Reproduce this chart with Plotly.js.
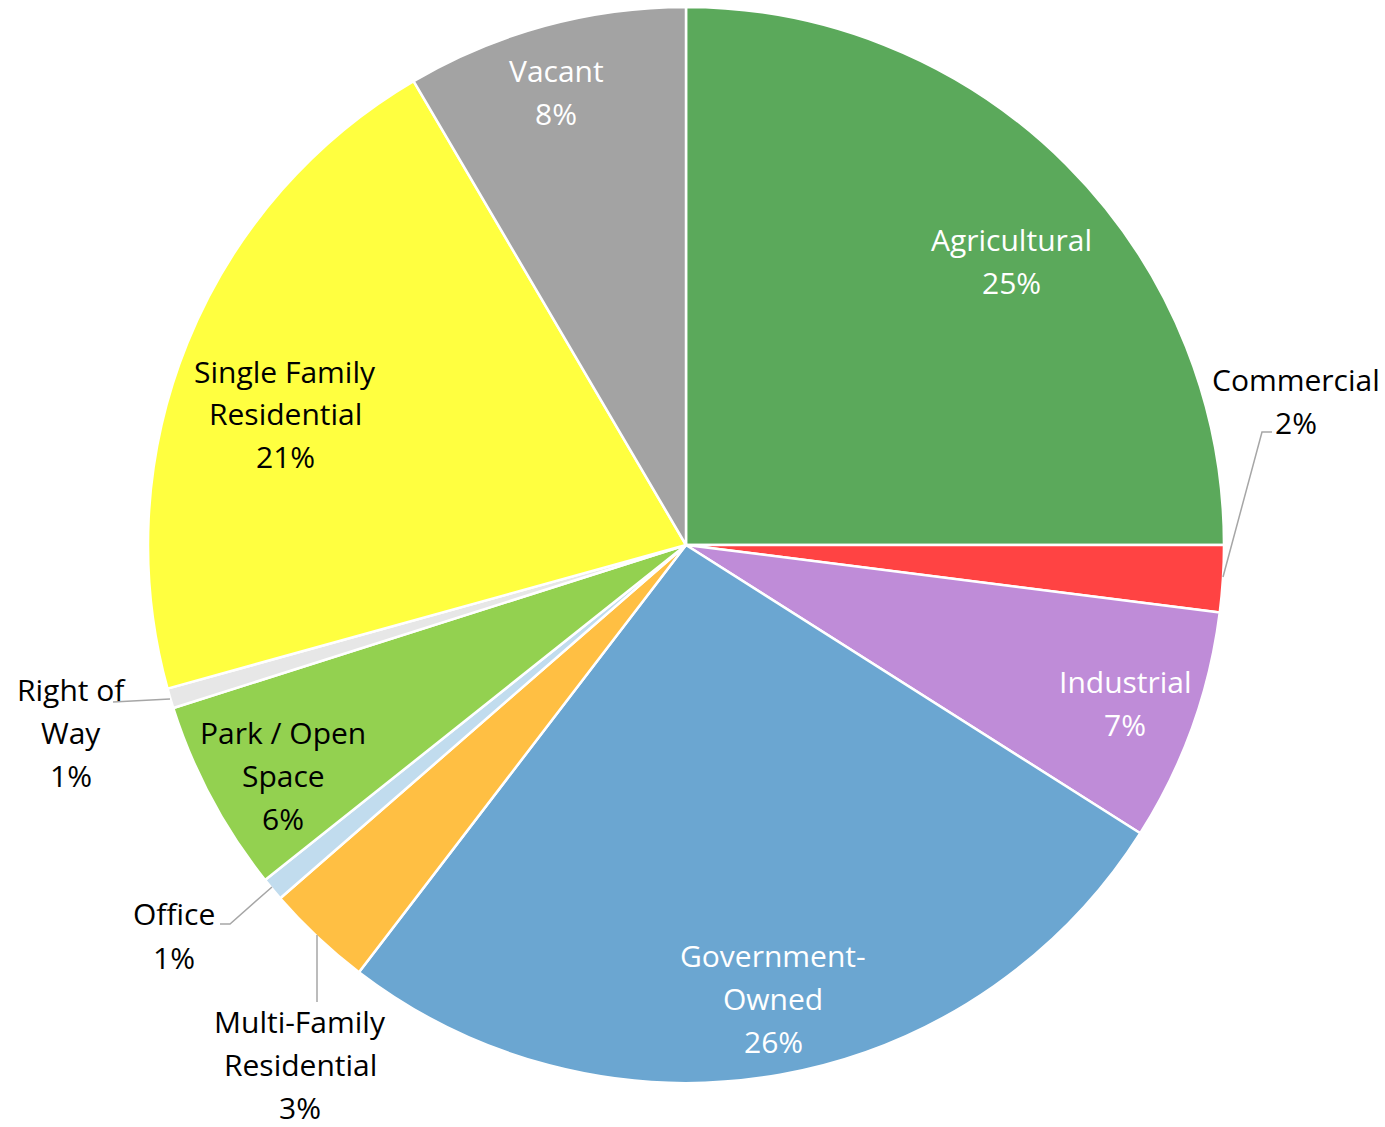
<!DOCTYPE html>
<html>
<head>
<meta charset="utf-8">
<script src="https://cdn.plot.ly/plotly-3.0.1.min.js"></script>
<style>
html,body{margin:0;padding:0;background:#fff;}
#chart{width:1385px;height:1127px;}
</style>
</head>
<body>
<div id="chart"></div>
<script>
// ---- data ----
const categories = ["Agricultural","Commercial","Industrial","Government-Owned","Multi-Family Residential","Office","Park / Open Space","Right of Way","Single Family Residential","Vacant"];
const shares = [25.0, 2.0, 7.0, 26.4, 3.2, 0.7, 5.8, 0.6, 20.85, 8.45];
const sliceColors = ["#5BA95B","#FF4343","#BF8CD8","#6BA6D1","#FFBF43","#C1DCEE","#93D150","#E7E7E7","#FFFF40","#A3A3A3"];

// ---- label presentation ----
const labelLines = {
  "Agricultural": ["Agricultural"],
  "Commercial": ["Commercial"],
  "Industrial": ["Industrial"],
  "Government-Owned": ["Government-","Owned"],
  "Multi-Family Residential": ["Multi-Family","Residential"],
  "Office": ["Office"],
  "Park / Open Space": ["Park / Open","Space"],
  "Right of Way": ["Right of","Way"],
  "Single Family Residential": ["Single Family","Residential"],
  "Vacant": ["Vacant"]
};
const labelFontColor = ["#FFFFFF","#000000","#FFFFFF","#FFFFFF","#000000","#000000","#000000","#000000","#000000","#FFFFFF"];
// first-line centre of each label, in page pixels
const labelAnchor = [[1012,239],[1296,379],[1125,681],[773,955],[300,1021],[174,914],[283,732],[71,689],[285,371],[556,70]];
const lineGap = 43;
// leader lines (page pixels)
const leaders = [
  [[1223,577],[1262,432],[1272,432]],
  [[170,699],[113,702]],
  [[272,887],[230,924],[220,924]],
  [[317,935],[317,1002]]
];

const W = 1385, H = 1127;
const px = x => x / W;
const py = y => 1 - y / H;

const total = shares.reduce((a,b)=>a+b,0);
const annotations = [];
categories.forEach((c,i)=>{
  const lines = labelLines[c].concat([Math.round(shares[i]/total*100) + "%"]);
  lines.forEach((t,k)=>{
    annotations.push({
      xref:"paper", yref:"paper",
      x: px(labelAnchor[i][0]), y: py(labelAnchor[i][1] + k*lineGap),
      xanchor:"center", yanchor:"middle",
      text: t, showarrow:false, borderpad:0,
      font:{family:"'Open Sans', Lato, sans-serif", size:30, color:labelFontColor[i]}
    });
  });
});

const shapes = leaders.map(pts=>({
  type:"path", xref:"paper", yref:"paper",
  path: pts.map((p,k)=>(k===0?"M":"L")+px(p[0])+","+py(p[1])).join(" "),
  line:{color:"#A6A6A6", width:1.5}
}));

const trace = {
  type:"pie",
  labels: categories,
  values: shares,
  sort:false,
  direction:"clockwise",
  rotation:0,
  textinfo:"none",
  hoverinfo:"label+percent",
  marker:{colors:sliceColors, line:{color:"#FFFFFF", width:2.5}},
  domain:{x:[px(148), px(1224)], y:[py(1083), py(7)]},
  showlegend:false
};

Plotly.newPlot("chart",[trace],{
  width:W, height:H,
  margin:{l:0,r:0,t:0,b:0},
  paper_bgcolor:"#FFFFFF",
  showlegend:false,
  annotations: annotations,
  shapes: shapes
},{displayModeBar:false, staticPlot:true});
</script>
</body>
</html>
